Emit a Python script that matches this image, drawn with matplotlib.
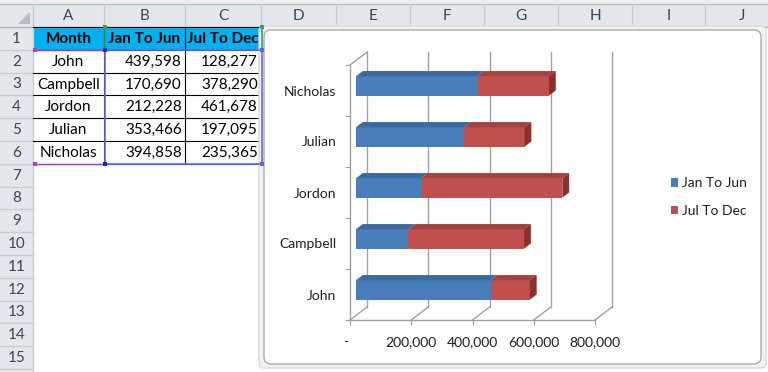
import matplotlib.pyplot as plt
from matplotlib.patches import Rectangle, Polygon, FancyBboxPatch

names = ["John", "Campbell", "Jordon", "Julian", "Nicholas"]
jan_jun = [439598, 170690, 212228, 353466, 394858]
jul_dec = [128277, 378290, 461678, 197095, 235365]
series = ["Jan To Jun", "Jul To Dec"]
header = ["Month", "Jan To Jun", "Jul To Dec"]
col_letters = ["A", "B", "C", "D", "E", "F", "G", "H", "I", "J"]
x_ticks = [0, 200000, 400000, 600000, 800000]
x_labels = ["-  ", "200,000", "400,000", "600,000", "800,000"]

plt.rcParams["font.family"] = ["Lato", "DejaVu Sans"]

W, H = 768, 372
fig = plt.figure(figsize=(W / 100, H / 100), dpi=100)
fig.patch.set_facecolor("white")

# spreadsheet background, drawn in pixel coordinates
bg = fig.add_axes([0, 0, 1, 1])
bg.set_xlim(0, W)
bg.set_ylim(H, 0)
bg.axis("off")

col_edges = [0, 33, 104, 185, 261, 336, 410, 484, 558, 632, 705, 779]
row_top = 27
row_h = 22.8
hdr_c = "#E4E7EB"
sep_c = "#C9CDD2"
hdr_txt = "#3B4656"

bg.add_patch(Rectangle((0, 0), W, 4, color="#F0F0F0", lw=0))
bg.add_patch(Rectangle((0, 4), W, row_top - 4, color=hdr_c, lw=0))
bg.add_patch(Rectangle((0, row_top), 33, H - row_top, color=hdr_c, lw=0))
bg.plot([0, W], [4, 4], color="#B9BEC4", lw=1)
bg.add_patch(Polygon([(30, 24), (30, 12), (18, 24)], color="#B8BDC3", lw=0))
for i, c in enumerate(col_letters):
    x0, x1 = col_edges[i + 1], col_edges[i + 2]
    bg.plot([x1, x1], [4, row_top], color=sep_c, lw=1)
    bg.text((x0 + x1) / 2, 16, c, ha="center", va="center", fontsize=11, color=hdr_txt)
bg.plot([33, 33], [4, H], color=sep_c, lw=1)
bg.plot([0, W], [row_top, row_top], color="#AEB4BB", lw=1)
for r in range(15):
    y0 = row_top + r * row_h
    bg.plot([0, 33], [y0 + row_h] * 2, color=sep_c, lw=1)
    bg.text(16.5, y0 + row_h / 2 + 0.5, str(r + 1), ha="center", va="center",
            fontsize=11, color=hdr_txt)

# data table A1:C6
bg.add_patch(Rectangle((33, row_top), 261 - 33, row_h, color="#00B0F0", lw=0))
for j, h in enumerate(header):
    x0, x1 = col_edges[j + 1], col_edges[j + 2]
    bg.text((x0 + x1) / 2, row_top + row_h / 2 + 0.5, h, ha="center", va="center",
            fontsize=11, fontweight="bold", color="black", zorder=2)
for i in range(len(names)):
    yc = row_top + (i + 1.5) * row_h + 0.5
    bg.text((33 + 104) / 2, yc, names[i], ha="center", va="center", fontsize=11, color="black")
    bg.text(182, yc, f"{jan_jun[i]:,}", ha="right", va="center", fontsize=11, color="black")
    bg.text(258, yc, f"{jul_dec[i]:,}", ha="right", va="center", fontsize=11, color="black")
for r in range(7):
    y = row_top + r * row_h
    bg.plot([33, 261], [y, y], color="black", lw=0.8, zorder=3)
for x in [104, 185, 261]:
    bg.plot([x, x], [row_top, row_top + 6 * row_h], color="black", lw=0.8, zorder=3)

# chart source range highlights
y2, y6 = row_top + row_h, row_top + 6 * row_h
bg.plot([35, 104], [y2, y2], color="#A040C0", lw=1, zorder=12)
bg.plot([35, 104], [y6, y6], color="#A040C0", lw=1, zorder=12)
bg.plot([105, 262, 262, 105, 105], [y2, y2, y6, y6, y2], color="#6A6AF0", lw=1.2, zorder=12)
bg.plot([105, 105], [row_top, y2], color="#3CA060", lw=1.2, zorder=12)
bg.plot([262, 262], [row_top, y2], color="#3CA060", lw=1.2, zorder=12)
for (x, y, c) in [(35, y2, "#B040C0"), (35, y6, "#B040C0"), (105, y2, "#2020E0"),
                  (105, y6, "#2020E0"), (262, y2, "#6060F0"), (262, y6, "#6060F0"),
                  (105, row_top, "#3CA060"), (262, row_top, "#3CA060")]:
    bg.add_patch(Rectangle((x - 2, y - 2), 4, 4, color=c, lw=0, zorder=13))

# chart object frame
bg.add_patch(FancyBboxPatch((259, 26), 507, 342, boxstyle="round,pad=0,rounding_size=5",
                            ec="#DADADA", fc="#F2F2F2", lw=1, zorder=10))
bg.add_patch(FancyBboxPatch((264, 30), 497, 334, boxstyle="round,pad=0,rounding_size=7",
                            ec="#ABABAB", fc="white", lw=1, zorder=11))

# chart plot area (front plane of the 3D box)
ax = fig.add_axes([350 / W, 1 - 320 / H, 245 / W, 255 / H])
ax.set_xlim(0, 800000)
ax.set_ylim(0, 5)
ax.patch.set_alpha(0)
for s in ax.spines.values():
    s.set_visible(False)

grid_c = "#A0A0A0"
dx_w = 800000 * 17 / 245
dy_w = 5 * 13 / 255
f0, f1 = 0.35, 0.75
ddx = (f1 - f0) * dx_w
ddy = (f1 - f0) * dy_w
bh = 0.38

for v in x_ticks:
    ax.plot([v + dx_w] * 2, [dy_w, 5 + dy_w], color=grid_c, lw=1, clip_on=False, zorder=1)
    ax.plot([v, v + dx_w], [0, dy_w], color=grid_c, lw=1, clip_on=False, zorder=1)
ax.plot([0, 0], [0, 5], color=grid_c, lw=1, clip_on=False, zorder=1)
ax.plot([0, dx_w], [5, 5 + dy_w], color=grid_c, lw=1, clip_on=False, zorder=1)
ax.plot([0, 800000], [0, 0], color=grid_c, lw=1, clip_on=False, zorder=1)

ax.set_xticks(x_ticks, x_labels)
ax.tick_params(axis="x", length=3.5, color=grid_c, pad=8, labelsize=10, labelcolor="#1F1F1F")
ax.set_yticks(range(6), [""] * 6)
ax.tick_params(axis="y", which="major", length=3.5, color=grid_c)
ax.set_yticks([i + 0.5 for i in range(5)], names, minor=True)
ax.tick_params(axis="y", which="minor", length=0, pad=10, labelsize=10, labelcolor="#1F1F1F")

blue, blue_top = "#4A7EBB", "#3C6AA0"
red, red_top, red_side = "#C0504D", "#A3423F", "#8A302D"

yc = [i + 0.5 + f0 * dy_w for i in range(len(names))]
x0 = f0 * dx_w
b1 = ax.barh(yc, jan_jun, left=x0, height=bh, color=blue, zorder=3, clip_on=False)
b2 = ax.barh(yc, jul_dec, left=[x0 + a for a in jan_jun], height=bh, color=red,
             zorder=3, clip_on=False)

for i in range(len(names)):
    yt = yc[i] + bh / 2
    yb = yc[i] - bh / 2
    a, b = jan_jun[i], jul_dec[i]
    segs = [(x0, x0 + a, blue_top), (x0 + a, x0 + a + b, red_top)]
    for s0, s1, c in segs:
        ax.add_patch(Polygon([(s0, yt), (s1, yt), (s1 + ddx, yt + ddy), (s0 + ddx, yt + ddy)],
                             color=c, lw=0, zorder=3, clip_on=False))
    xe = x0 + a + b
    ax.add_patch(Polygon([(xe, yb), (xe, yt), (xe + ddx, yt + ddy), (xe + ddx, yb + ddy)],
                         color=red_side, lw=0, zorder=3, clip_on=False))

fig.legend([b1, b2], series, loc="center left", bbox_to_anchor=(658 / W, 1 - 197 / H),
           frameon=False, fontsize=10, handlelength=0.55, handleheight=0.55,
           handletextpad=0.3, labelspacing=1.1, labelcolor="#1F1F1F")

fig.savefig("out.png", dpi=100, facecolor="white")
